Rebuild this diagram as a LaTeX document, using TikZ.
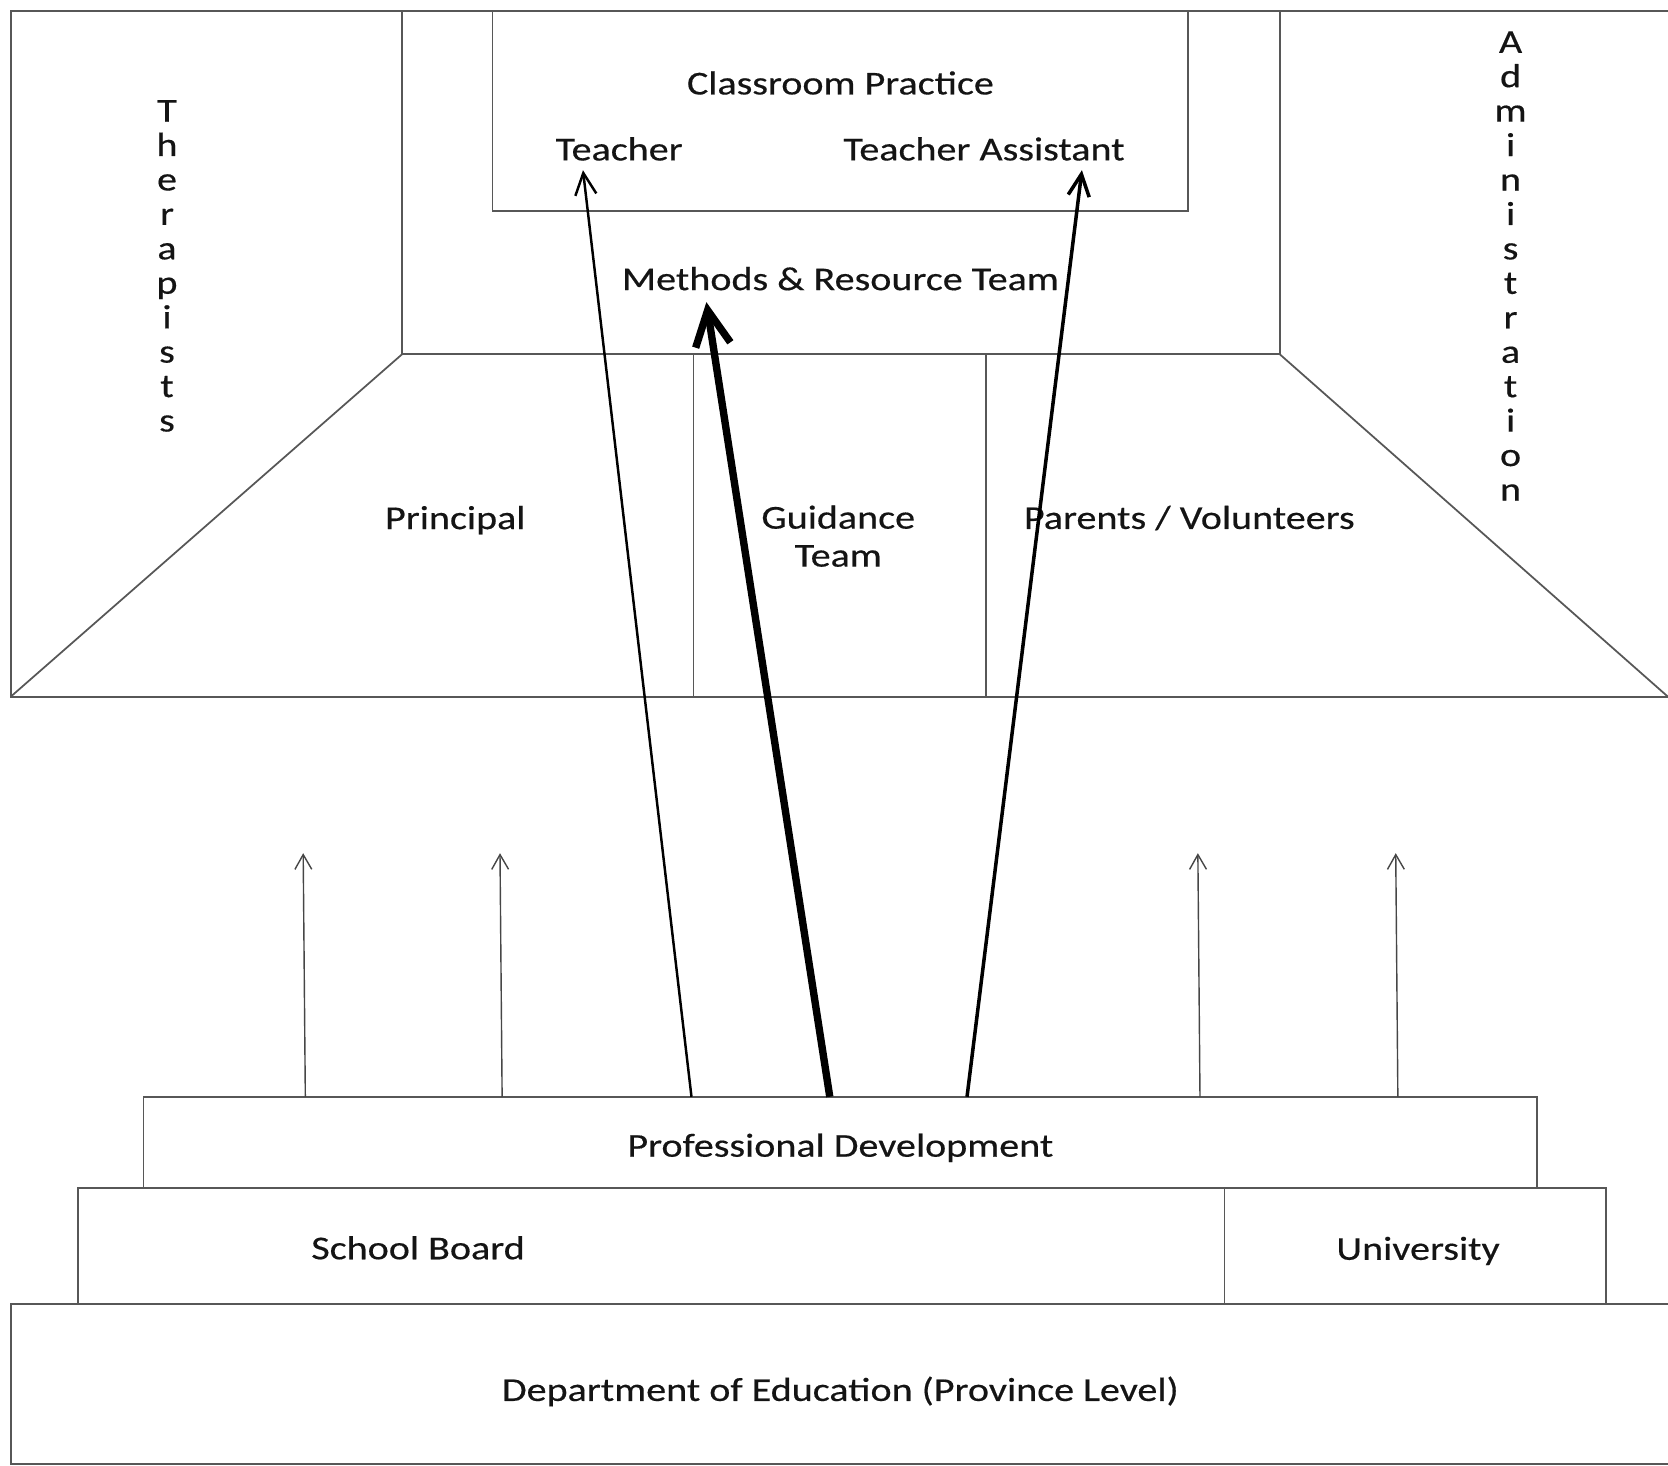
\documentclass[tikz,border=0pt]{standalone}
\usepackage{fontspec}
\setmainfont{Carlito}[FakeStretch=1.2, FakeBold=0.4]
\usetikzlibrary{arrows.meta}
\definecolor{edge}{HTML}{575757}
\definecolor{ink}{HTML}{141414}

\begin{document}
\begin{tikzpicture}[scale=0.10638,
    wall/.style={draw=edge, line width=0.5pt},
    liftarrow/.style={draw=edge!80!black, line width=0.4pt, -{Straight Barb[length=4.2pt, width=4.8pt]}},
    pdarrow/.style={draw=black, line width=0.7pt, -{Straight Barb[length=6.2pt, width=6pt]}},
    mainarrow/.style={draw=black, line width=2.1pt, -{Straight Barb[length=10pt, width=10pt]}}]
            \tikzstyle{every node}+=[inner sep=0pt, text=ink, font=\fontsize{9.5}{10.8}\selectfont]
            \tikzstyle{letters}=[align=center, font=\fontsize{9.5}{9.8}\selectfont]
            \useasboundingbox (0,0) rectangle (156.8,-137.8);
            % room
            \draw [wall] (157.5,-1) -- (1,-1) -- (1,-65.5) -- (157.5,-65.5);
            \draw [wall] (37.8,-1) -- (37.8,-33.3) -- (120.3,-33.3) -- (120.3,-1);
            \draw [wall] (46.3,-1) -- (46.3,-19.8) -- (111.7,-19.8) -- (111.7,-1);
            \draw [wall] (37.8,-33.3) -- (1,-65.5);
            \draw [wall] (120.3,-33.3) -- (156.8,-65.5);
            \draw [wall] (65.2,-33.3) -- (65.2,-65.5);
            \draw [wall] (92.7,-33.3) -- (92.7,-65.5);
            % steps
            \draw [wall] (13.5,-111.7) rectangle (144.5,-103.1);
            \draw [wall] (7.3,-122.6) rectangle (151,-111.7);
            \draw [wall] (115.1,-122.6) -- (115.1,-111.7);
            \draw [wall] (1,-137.6) rectangle (157.5,-122.6);
            % labels
            \node (practice) at (79,-7.8) {Classroom Practice};
            \node (teacher) at (58.2,-14) {Teacher};
            \node (assistant) at (92.5,-14) {Teacher Assistant};
            \node (methods) at (79,-26.2) {Methods \& Resource Team};
            \node (principal) at (42.8,-48.9) {Principal};
            \node (guidance) [align=center] at (78.8,-50.4) {Guidance\\Team};
            \node (parents) at (111.8,-48.7) {Parents / Volunteers};
            \node (therapists) [letters] at (15.7,-25) {T\\h\\e\\r\\a\\p\\i\\s\\t\\s};
            \node (admin) [letters] at (142,-25) {A\\d\\m\\i\\n\\i\\s\\t\\r\\a\\t\\i\\o\\n};
            \node (pd) at (79,-107.9) {Professional Development};
            \node (board) at (39.3,-117.3) {School Board};
            \node (uni) at (133.3,-117.6) {University};
            \node (dept) at (79,-130.8) {Department of Education (Province Level)};
            % arrow ends
            \coordinate (pdA) at (28.7,-103.1);
            \coordinate (pdB) at (47.2,-103.1);
            \coordinate (pdC) at (65,-103.1);
            \coordinate (pdD) at (78,-103.1);
            \coordinate (pdE) at (90.9,-103.1);
            \coordinate (pdF) at (112.8,-103.1);
            \coordinate (pdG) at (131.4,-103.1);
            \coordinate (upA) at (28.5,-80.2);
            \coordinate (upB) at (47,-80.2);
            \coordinate (upF) at (112.6,-80.2);
            \coordinate (upG) at (131.2,-80.2);
            \coordinate (teacherTip) at (54.8,-16);
            \coordinate (methodsTip) at (66.4,-28.4);
            \coordinate (assistantTip) at (101.7,-16);
            % arrows
            \draw [liftarrow] (pdA) -- (upA);
            \draw [liftarrow] (pdB) -- (upB);
            \draw [liftarrow] (pdF) -- (upF);
            \draw [liftarrow] (pdG) -- (upG);
            \draw [pdarrow] (pdC) -- (teacherTip);
            \draw [pdarrow, line width=1pt] (pdE) -- (assistantTip);
            \draw [mainarrow] (pdD) -- (methodsTip);
\end{tikzpicture}
\end{document}
